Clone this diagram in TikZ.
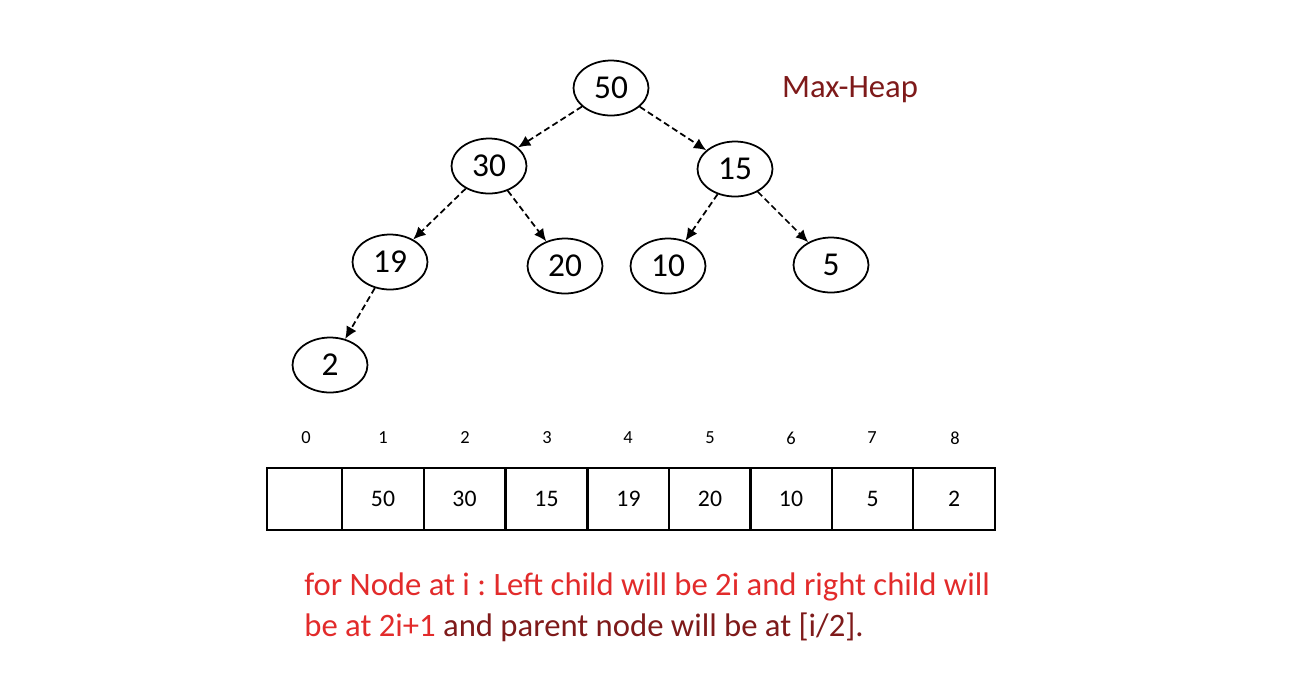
\documentclass[tikz,border=0pt]{standalone}
\usepackage{fontspec}
\setmainfont{Carlito}
\usetikzlibrary{shapes.geometric,arrows.meta}
\definecolor{hred}{HTML}{E22B2B}
\definecolor{hdark}{HTML}{7E1A1A}
\tikzset{
  heapnode/.style={ellipse,draw,line width=1pt,minimum width=1.5cm,minimum height=1.1cm,inner sep=0pt,font=\fontsize{19}{22}\selectfont},
  heaparrow/.style={-{Latex[length=7pt,width=6.5pt]},line width=1pt,dash pattern=on 3.5pt off 2pt},
  cell/.style={draw,line width=1pt,minimum height=1.24cm,inner sep=0pt,font=\fontsize{13.5}{16}\selectfont},
  idx/.style={font=\fontsize{10.5}{12}\selectfont},
  rule/.style={font=\fontsize{18.6}{22}\selectfont,anchor=base west,inner sep=0pt}
}
\begin{document}
\frenchspacing
\begin{tikzpicture}[x=0.02cm,y=-0.02cm]
\useasboundingbox (0,0) rectangle (1294,684);
% tree
\node[heapnode] (n50) at (611,88) {50};
\node[heapnode] (n30) at (489,166) {30};
\node[heapnode] (n15) at (735,169) {15};
\node[heapnode] (n19) at (390,262) {19};
\node[heapnode] (n20) at (565,266) {20};
\node[heapnode] (n10) at (668,266) {10};
\node[heapnode] (n5) at (831,265) {5};
\node[heapnode] (n2) at (330,365) {2};
\draw[heaparrow] (n50) -- (n30);
\draw[heaparrow] (n50) -- (n15);
\draw[heaparrow] (n30) -- (n19);
\draw[heaparrow] (n30) -- (n20);
\draw[heaparrow] (n15) -- (n10);
\draw[heaparrow] (n15) -- (n5);
\draw[heaparrow] (n19) -- (n2);
\node[text=hdark,font=\fontsize{18.6}{22}\selectfont] (title) at (850,90) {Max-Heap};
% array
\node[cell,minimum width=1.5cm] (c0) at (304.5,499) {};
\foreach \i/\x/\v in {1/383/50,2/464.5/30,3/546.5/15,4/628.5/19,5/710/20,6/791/10,7/872.5/5,8/954/2}{
  \node[cell,minimum width=1.63cm] (c\i) at (\x,499) {\v};
}
\foreach \i/\x in {0/306,1/383,2/465,3/547,4/628,5/710,6/791,7/872,8/955}{
  \node[idx] (i\i) at (\x,438) {\i};
}
% rule text
\node[rule,text=hred] (r1) at (304,595) {for Node at i : Left child will be 2i and right child will};
\node[rule] (r2) at (304,636) {\textcolor{hred}{be at 2i+1} \textcolor{hdark}{and parent node will be at [i/2].}};
\end{tikzpicture}
\end{document}
